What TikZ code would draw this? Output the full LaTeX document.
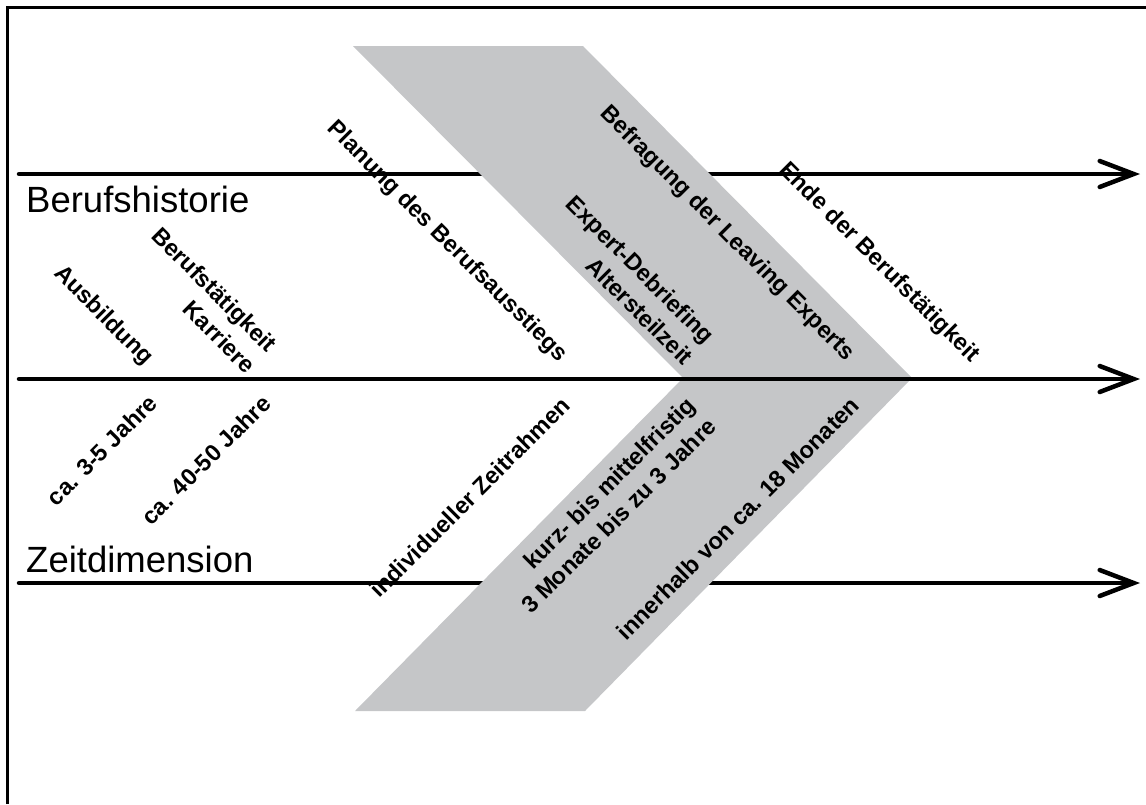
\documentclass[tikz,border=0pt]{standalone}
\usepackage{fontspec}
\setmainfont{Liberation Sans}
\usetikzlibrary{arrows.meta}
\definecolor{bandgray}{RGB}{197,198,200}
\tikzset{
  axis/.style={line width=4.5pt, line cap=round,
    -{Straight Barb[length=34pt,width=26pt,line cap=round]}},
  lab/.style={font=\bfseries\fontsize{23.5}{30}\selectfont, inner sep=0pt, align=right},
  down/.style={lab, rotate=-45},
  up/.style={lab, rotate=45},
  title/.style={font=\fontsize{36.5}{40}\selectfont, inner sep=0pt, anchor=base west},
}
\begin{document}
\begin{tikzpicture}[x=1pt,y=-1pt]
\useasboundingbox (0,0) rectangle (1146,804);
% frame edges
\draw[line width=3pt] (7,804) -- (7,7.5) -- (1146,7.5);

% axis end points
\coordinate (t0) at (19,174);  \coordinate (t1) at (1140,174);
\coordinate (m0) at (19,379);  \coordinate (m1) at (1140,379);
\coordinate (b0) at (19,583);  \coordinate (b1) at (1140,583);

\draw[axis] (t0) -- (t1);
\draw[axis] (b0) -- (b1);

% grey chevron
\fill[bandgray] (353,46) -- (583,46) -- (912,378) -- (585,711) -- (355,711) -- (683,378) -- cycle;

\draw[axis] (m0) -- (m1);

% titles
\node[title] (hist) at (26,212) {Berufshistorie};
\node[title] (zeit) at (26,572) {Zeitdimension};

% phases
\node[down] (ausb) at (103,316) {Ausbildung};
\node[down] (beruf) at (204,300) {Berufstätigkeit\\Karriere};
\node[down] (plan) at (447,242) {Planung des Berufsausstiegs};
\node[down] (expert) at (630,280) {Expert-Debriefing\\Altersteilzeit};
\node[down] (befr) at (727,234) {Befragung der Leaving Experts};
\node[down] (ende) at (879,263) {Ende der Berufstätigkeit};

% durations
\node[up] (d1) at (102,450) {ca. 3-5 Jahre};
\node[up] (d2) at (206,460) {ca. 40-50 Jahre};
\node[up] (d3) at (470,497) {individueller Zeitrahmen};
\node[up] (d4) at (608,505) {kurz- bis mittelfristig\\3 Monate bis zu 3 Jahre};
\node[up] (d5) at (738,518) {innerhalb von ca. 18 Monaten};
\end{tikzpicture}
\end{document}
